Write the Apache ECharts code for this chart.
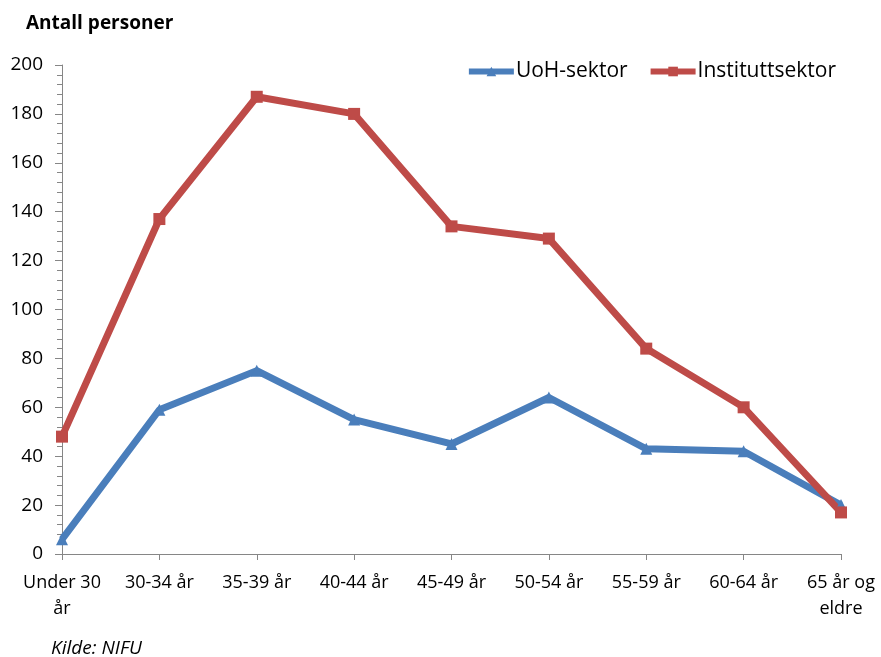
<!DOCTYPE html>
<html>
<head>
<meta charset="utf-8">
<script src="https://cdn.jsdelivr.net/npm/echarts@6/dist/echarts.min.js"></script>
<style>
  html, body { margin: 0; padding: 0; background: #fff; }
  #chart { width: 881px; height: 657px; }
</style>
</head>
<body>
<div id="chart"></div>
<script>
const categories = ['Under 30\når', '30-34 år', '35-39 år', '40-44 år', '45-49 år', '50-54 år', '55-59 år', '60-64 år', '65 år og\neldre'];
const uohValues = [6, 59, 75, 55, 45, 64, 43, 42, 20];
const instituttValues = [48, 137, 187, 180, 134, 129, 84, 60, 17];

const chartDom = document.getElementById('chart');
const myChart = echarts.init(chartDom);
const font = '"Open Sans", "Noto Sans", sans-serif';

let option = {
  animation: false,
  textStyle: { fontFamily: font },
  title: [
    {
      text: 'Antall personer',
      left: 21, top: 9,
      textStyle: { fontFamily: font, fontSize: 19, fontWeight: 'bold', color: '#000' }
    },
    {
      text: 'Kilde: NIFU',
      left: 46, top: 634,
      textStyle: { fontFamily: font, fontSize: 19, fontStyle: 'italic', fontWeight: 'normal', color: '#000' }
    }
  ],
  legend: {
    right: 40, top: 56,
    itemWidth: 45, itemHeight: 12, itemGap: 20,
    lineStyle: { width: 6 },
    textStyle: { fontFamily: font, fontSize: 21, color: '#000', padding: [0, 0, 0, -3] },
    data: ['UoH-sektor', 'Instituttsektor']
  },
  grid: { left: 62, right: 40, top: 65, bottom: 103, containLabel: false },
  xAxis: {
    type: 'category',
    data: categories,
    boundaryGap: false,
    axisLine: { lineStyle: { color: '#868686', width: 1 } },
    axisTick: { show: true, length: 6, alignWithLabel: true, lineStyle: { color: '#868686' } },
    axisLabel: { color: '#000', fontSize: 18, margin: 16, lineHeight: 26, interval: 0 },
    splitLine: { show: false }
  },
  yAxis: {
    type: 'value',
    min: 0, max: 200, interval: 20,
    axisLine: { show: true, lineStyle: { color: '#868686', width: 1 } },
    axisTick: { show: true, length: 7, lineStyle: { color: '#868686' } },
    minorTick: { show: true, splitNumber: 5, length: 5, lineStyle: { color: '#868686' } },
    axisLabel: { color: '#000', fontSize: 19, margin: 19 },
    splitLine: { show: false }
  },
  series: [
    {
      name: 'UoH-sektor',
      type: 'line',
      data: uohValues,
      symbol: 'triangle',
      symbolSize: 12,
      lineStyle: { width: 7, color: '#4A7EBB' },
      itemStyle: { color: '#4A7EBB' }
    },
    {
      name: 'Instituttsektor',
      type: 'line',
      data: instituttValues,
      symbol: 'rect',
      symbolSize: 12,
      lineStyle: { width: 7, color: '#BE4B48' },
      itemStyle: { color: '#BE4B48' }
    }
  ]
};
option && myChart.setOption(option);
</script>
</body>
</html>
